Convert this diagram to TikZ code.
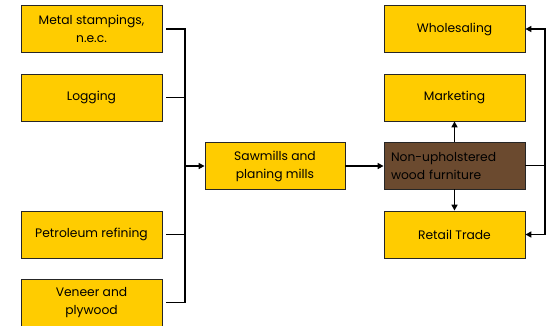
\documentclass[tikz,border=0pt]{standalone}
\usepackage{fontspec}
\setmainfont{Poppins}
\usetikzlibrary{arrows.meta}
\definecolor{boxgold}{HTML}{FFCC00}
\definecolor{woodbrown}{HTML}{6B4A2F}
\tikzset{
  x=1pt, y=-1pt,
  gbox/.style={draw=black!85, line width=0.8pt, fill=boxgold, minimum width=141pt,
    minimum height=47pt, align=center, font=\fontsize{12.3}{18}\selectfont, inner sep=2pt},
  bbox/.style={gbox, fill=woodbrown, align=left, text width=127pt},
  link/.style={line width=1.6pt, black},
  flow/.style={link, -{Triangle[length=6pt,width=6pt]}},
}
\begin{document}
\begin{tikzpicture}
\useasboundingbox (0,0) rectangle (548,325);
\clip (0,0) rectangle (548,325);
% source industries
\node[gbox] (metal) at (91.5,29) {Metal stampings,\\n.e.c.};
\node[gbox] (log) at (91.5,97.5) {Logging};
\node[gbox] (petro) at (91.5,234.5) {Petroleum refining};
\node[gbox] (veneer) at (91.5,302.5) {Veneer and\\plywood};
% central chain
\node[gbox, minimum width=140pt] (saw) at (275,166) {Sawmills and\\planing mills};
\node[bbox] (furn) at (454.5,165.5) {Non-upholstered\\wood furniture};
% downstream
\node[gbox] (whole) at (454.5,29) {Wholesaling};
\node[gbox] (mkt) at (454.5,97.5) {Marketing};
\node[gbox] (retail) at (454.5,234.5) {Retail Trade};
% collector bus on the left
\coordinate (busTop) at (185,29);
\coordinate (busBot) at (185,302.5);
\coordinate (busMid) at (185,166);
\draw[link] ([xshift=4pt]metal.east) -- (busTop) -- (busBot) -- ([xshift=4pt]veneer.east);
\draw[link] ([xshift=4pt]log.east) -- (log.east -| busTop);
\draw[link] ([xshift=4pt]petro.east) -- (petro.east -| busTop);
\draw[flow] (busMid) -- (saw.west);
\draw[flow] (saw.east) -- (furn.west |- saw.east);
% distribution
\draw[flow] (furn.north) -- (mkt.south);
\draw[flow] (furn.south) -- (retail.south |- retail.north);
\coordinate (rbus) at (545,165.5);
\draw[link] (furn.east) -- (rbus);
\draw[flow] (rbus) |- (whole.east);
\draw[flow] (rbus) |- (retail.east);
\end{tikzpicture}
\end{document}
